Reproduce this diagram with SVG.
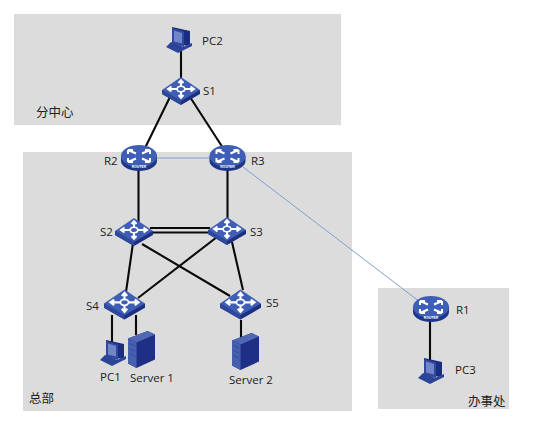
<svg xmlns="http://www.w3.org/2000/svg" width="540" height="422" viewBox="0 0 540 422">
<style>
.area{fill:#dcdcdc}
.wire{stroke:#0a0a0a;stroke-width:2.1;fill:none}
.wan{stroke:#7f9fd0;stroke-width:1;fill:none}
.t{font-family:"Open Sans","Liberation Sans",sans-serif;font-size:11.5px;fill:#222}
.c{font-family:"Noto Sans CJK SC","Liberation Sans",sans-serif;font-size:12.500px;fill:#222}
.a{fill:none;stroke:#fff;stroke-width:2}
.l{fill:#fff;font-family:"Liberation Sans",sans-serif;font-size:3.4px;font-weight:bold;text-anchor:middle}
</style>
<defs>
<symbol id="router" overflow="visible" viewBox="-19 -13 38 26" width="38" height="26">
<path d="M-18-2V3C-18 9-9 13 0 13S18 9 18 3V-2Z" fill="#1f3587"/>
<ellipse cx="0" cy="-2" rx="18" ry="11" fill="#3f5eb5"/>
<g class="a">
<path d="M-11-8-3-4.500M-11-8h5M-11-8v4"/>
<path d="M11-8 3-4.500M11-8H6M11-8v4"/>
<path d="M-11 4-3 .5M-11 4h5M-11 4V0"/>
<path d="M11 4 3 .5M11 4H6M11 4V0"/>
</g>
<text class="l" x="0" y="10">ROUTER</text>
</symbol>
<symbol id="switch" overflow="visible" viewBox="-19 -14 38 28" width="38" height="28">
<path d="M-19-1V3L0 14 19 3V-1Z" fill="#1d3080"/>
<path d="M-19-1 0-14 19-1 0 10Z" fill="#3f5eb5"/>
<path d="M-19-1 0 10V14L-19 3Z" fill="#2e489c"/>
<g class="a">
<ellipse cx="0" cy="-2" rx="3.800" ry="2.800" stroke-width="1.600"/>
<path d="M0-5V-10M-2.500-8 0-10.800 2.500-8M0 1V6M-2.500 4 0 6.800 2.500 4M-4-2H-12M-9.500-4.500-13-2-9.500 .5M4-2H12M9.500-4.500 13-2 9.500 .5"/>
</g>
</symbol>
<symbol id="pc" overflow="visible" viewBox="-13 -13 26 26" width="26" height="26">
<path d="M-7-13 11-9V6L-7 4Z" fill="#1b2d80"/>
<path d="M-7-12 5-8.500V7L-7 4Z" fill="#31499f"/>
<path d="M-5-9.500 3-7V3.500L-5 1.500Z" fill="#7086c8"/>
<path d="M-8 2-13 7-1 13 13 6 13 3 4 7Z" fill="#2c4496"/>
</symbol>
<symbol id="server" overflow="visible" viewBox="-13.500 -18.500 27 37" width="27" height="37">
<path d="M-13.500-11 6-18.500 13.500-15V10L-5 18.500-13.500 14Z" fill="#1f2f85"/>
<path d="M-13.500-11-5-7 13.500-15 6-18.500Z" fill="#5067b5"/>
<path d="M-13.500-11-5-7V18.500L-13.500 14Z" fill="#4660ad"/>
<path d="M-12-6-6.500-3.500M-12-1-6.500 1.500M-12 4-6.500 6.500" stroke="#2f4596" stroke-width=".7" fill="none"/>
</symbol>
</defs>
<rect class="area" x="14" y="14" width="327" height="111"/>
<rect class="area" x="23" y="152" width="329" height="259"/>
<rect class="area" x="378" y="288" width="131" height="121"/>
<g id="connectors">
<path class="wire" d="M181 50V80M170 97 145 148M190 97 223 148M138.500 168V222M227.500 168V220"/>
<path class="wire" d="M150 228H210M150 232.500H210M133 243 126 292M232 242 243 290M142 244 230 296M217 237 138 298"/>
<path class="wire" d="M112 315V345M136 315V335M241 320V338M430 320V362"/>
<path class="wan" d="M150 158H215M243 167 420 302"/>
</g>
<g id="PC2"><use href="#pc" x="166" y="27"/><text class="t" x="202" y="45">PC2</text></g>
<g id="S1"><use href="#switch" x="162" y="77"/><text class="t" x="203" y="95">S1</text></g>
<g id="R2"><use href="#router" x="120" y="145" /><text class="t" x="104" y="165">R2</text></g>
<g id="R3"><use href="#router" x="208.500" y="145"/><text class="t" x="251" y="165">R3</text></g>
<g id="S2"><use href="#switch" x="115" y="218"/><text class="t" x="100" y="236">S2</text></g>
<g id="S3"><use href="#switch" x="208" y="217"/><text class="t" x="250" y="236">S3</text></g>
<g id="S4"><use href="#switch" x="104" y="286" width="41" height="37"/><text class="t" x="86" y="310">S4</text></g>
<g id="S5"><use href="#switch" x="220" y="286" width="41" height="37"/><text class="t" x="266" y="307">S5</text></g>
<g id="PC1"><use href="#pc" x="99" y="340" width="28" height="26"/><text class="t" x="100" y="381">PC1</text></g>
<g id="Server1"><use href="#server" x="128" y="331"/><text class="t" x="130" y="382">Server 1</text></g>
<g id="Server2"><use href="#server" x="232" y="333"/><text class="t" x="229" y="384">Server 2</text></g>
<g id="R1"><use href="#router" x="412" y="296"/><text class="t" x="456" y="314">R1</text></g>
<g id="PC3"><use href="#pc" x="418" y="358"/><text class="t" x="455" y="374">PC3</text></g>
<text class="c" x="36" y="117">分中心</text>
<text class="c" x="29" y="403">总部</text>
<text class="c" x="468" y="406">办事处</text>
</svg>
